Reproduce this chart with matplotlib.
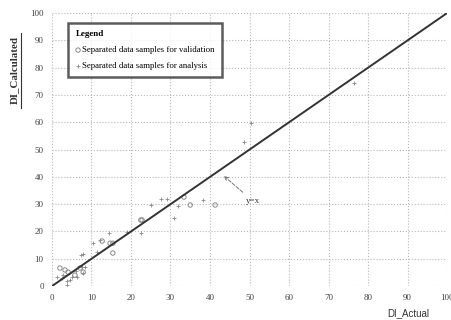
import matplotlib.pyplot as plt
from matplotlib.lines import Line2D

# validation samples (small circles)
val_x = [2.0, 3.3, 4.1, 5.8, 7.1, 7.9, 12.7, 15.4, 15.4, 22.8, 33.4, 35.0, 41.3, 22.5, 14.7]
val_y = [6.6, 5.9, 5.1, 4.0, 6.6, 5.1, 16.5, 15.7, 12.1, 24.2, 32.6, 29.7, 29.7, 24.2, 15.7]

# analysis samples (small crosses)
ana_x = [1.3, 2.5, 3.8, 3.8, 5.0, 6.3, 7.6, 7.3, 7.9, 8.4, 7.9, 10.4, 11.4, 12.2, 14.4,
         19.0, 22.5, 25.0, 27.5, 29.0, 30.9, 32.0, 38.2, 48.6, 50.4, 76.5, 2.8, 4.6, 6.0]
ana_y = [3.3, 2.9, 1.8, 0.4, 3.3, 3.3, 7.0, 11.4, 11.7, 7.0, 4.8, 15.7, 12.5, 16.8, 19.4,
         19.8, 19.4, 29.7, 32.0, 32.0, 24.9, 29.3, 31.5, 52.7, 59.7, 74.4, 4.2, 2.4, 5.5]

ticks = list(range(0, 101, 10))
gray = "#8a8a8a"

fig = plt.figure(figsize=(4.52, 3.2), dpi=100)
ax = fig.add_axes([0.115, 0.106, 0.874, 0.853])

ax.plot([0, 100], [0, 100], color="#333333", lw=1.4, zorder=3)
ax.scatter(val_x, val_y, s=10, facecolors="none", edgecolors=gray, linewidths=0.7, zorder=2,
           label="Separated data samples for validation")
ax.scatter(ana_x, ana_y, s=8, marker="+", color=gray, linewidths=0.6, zorder=2,
           label="Separated data samples for analysis")

ax.set_xlim(0, 100)
ax.set_ylim(0, 100)
ax.set_xticks(ticks)
ax.set_yticks(ticks)
ax.grid(True, linestyle=":", color="#b8b8b8", lw=0.8)
for s in ax.spines.values():
    s.set_visible(False)
ax.tick_params(length=0, labelsize=6.5, labelcolor="#444444", pad=6)
for lab in ax.get_xticklabels() + ax.get_yticklabels():
    lab.set_fontfamily("Liberation Serif")

ax.annotate("y=x", xy=(43, 41), xytext=(49, 30.5), fontsize=6.5, family="Liberation Serif",
            color="#333333",
            arrowprops=dict(arrowstyle="->", linestyle="--", color="#777777", lw=0.7))

leg = ax.legend(loc="upper left", bbox_to_anchor=(0.035, 0.972), title="Legend",
                alignment="left", frameon=True, fancybox=False, handletextpad=0.2,
                handlelength=0.6, borderpad=0.8, labelspacing=0.9, borderaxespad=0.3,
                prop={"family": "Liberation Serif", "size": 6.3})
leg.get_title().set_fontfamily("Liberation Serif")
leg.get_title().set_fontweight("bold")
leg.get_title().set_fontsize(6.5)
leg.get_frame().set_edgecolor("#333333")
leg.get_frame().set_linewidth(1.8)

fig.text(0.031, 0.78, "DI_Calculated", rotation=90, ha="center", va="center",
         fontsize=7.8, fontweight="bold", family="Liberation Serif", color="#333333")
fig.lines.append(Line2D([0.046, 0.046], [0.662, 0.897], transform=fig.transFigure,
                        color="#333333", lw=0.8))
fig.text(0.903, 0.022, "DI_Actual", ha="center", va="center", fontsize=7,
         family="Liberation Sans", color="#333333")

fig.savefig("out.png", dpi=100)
